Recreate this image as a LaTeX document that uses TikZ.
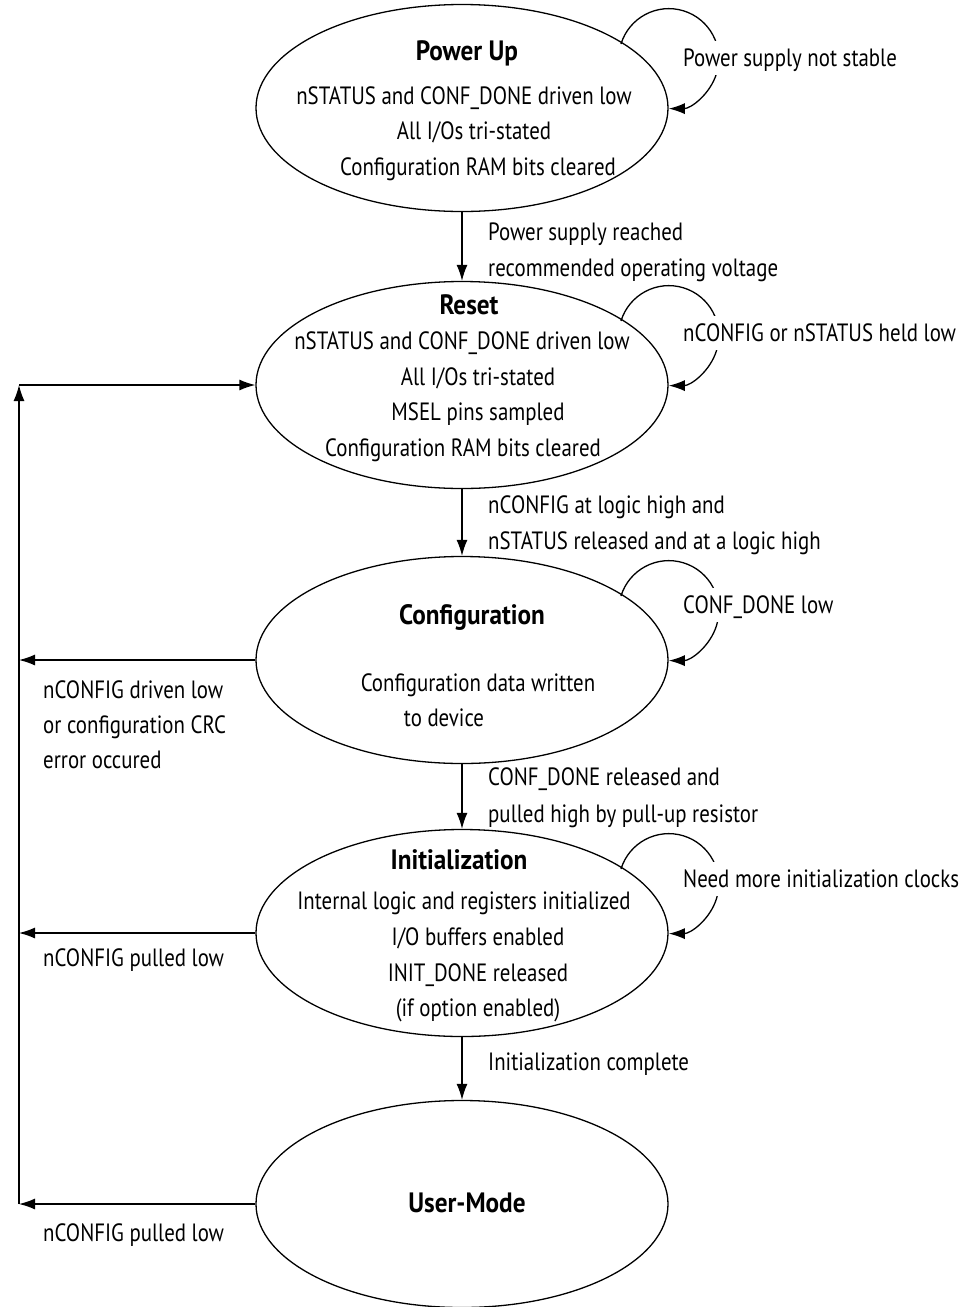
\documentclass[tikz,border=0pt]{standalone}
\usepackage{fontspec}
\setmainfont{PT Sans}[FakeStretch=0.835]
\newfontfamily\ttlfont{PT Sans}[FakeStretch=0.9]
\usetikzlibrary{shapes.geometric,arrows.meta}
\begin{document}
\begin{tikzpicture}[x=1pt,y=-1pt,
  state/.style={draw, ellipse, minimum width=412pt, minimum height=207pt, inner sep=0pt, line width=1.3pt},
  txt/.style={font=\fontsize{25}{30}\selectfont, inner sep=0pt, text height=17.5pt, text depth=0pt, anchor=center},
  ttl/.style={font=\ttlfont\fontsize{28}{32}\selectfont\bfseries, inner sep=0pt, text height=19.6pt, text depth=0pt, anchor=center},
  lbl/.style={txt, anchor=west},
  looplbl/.style={lbl, fill=white, inner ysep=8pt},
  arr/.style={line width=1.3pt, -{Latex[length=16pt,width=11pt]}}
]
\useasboundingbox (0,0) rectangle (964,1307);

% states
\node[state] (pu) at (462,108) {};
\node[state] (rs) at (462,385) {};
\node[state] (cf) at (462,660) {};
\node[state] (in) at (462,933) {};
\node[state] (um) at (462,1204) {};

% state texts
\node[ttl] (puT) at (467,51) {Power Up};
\node[txt] (pu1) at (464,96) {nSTATUS and CONF\_DONE driven low};
\node[txt] (pu2) at (474,131) {All I/Os tri-stated};
\node[txt] (pu3) at (478,167) {Configuration RAM bits cleared};

\node[ttl] (rsT) at (469,305) {Reset};
\node[txt] (rs1) at (462,341) {nSTATUS and CONF\_DONE driven low};
\node[txt] (rs2) at (478,377) {All I/Os tri-stated};
\node[txt] (rs3) at (478,412) {MSEL pins sampled};
\node[txt] (rs4) at (463,448) {Configuration RAM bits cleared};

\node[ttl] (cfT) at (472,615) {Configuration};
\node[txt] (cf1) at (478,683) {Configuration data written};
\node[txt] (cf2) at (444,718) {to device};

\node[ttl] (inT) at (459,860) {Initialization};
\node[txt] (in1) at (464,901) {Internal logic and registers initialized};
\node[txt] (in2) at (478,937) {I/O buffers enabled};
\node[txt] (in3) at (478,973) {INIT\_DONE released};
\node[txt] (in4) at (478,1008) {(if option enabled)};

\node[ttl] (umT) at (467,1203) {User-Mode};

% edge labels
\node[lbl] (l2) at (488,232) {Power supply reached};
\node[lbl] (l2b) at (488,268) {recommended operating voltage};
\node[lbl] (l4) at (488,505) {nCONFIG at logic high and};
\node[lbl] (l4b) at (488,541) {nSTATUS released and at a logic high};
\node[lbl] (l6) at (43,690) {nCONFIG driven low};
\node[lbl] (l6b) at (43,725) {or configuration CRC};
\node[lbl] (l6c) at (43,760) {error occured};
\node[lbl] (l7) at (488,777) {CONF\_DONE released and};
\node[lbl] (l7b) at (488,814) {pulled high by pull-up resistor};
\node[lbl] (l9) at (43,958) {nCONFIG pulled low};
\node[lbl] (l10) at (488,1062) {Initialization complete};
\node[lbl] (l11) at (43,1233) {nCONFIG pulled low};

% vertical transitions
\draw[arr] (pu.south) -- (rs.north);
\draw[arr] (rs.south) -- (cf.north);
\draw[arr] (cf.south) -- (in.north);
\draw[arr] (in.south) -- (um.north);

% self loops
\foreach \s in {pu,rs,cf,in}{
  \draw[arr] ([shift={(159,-64)}]\s.center) arc[start angle=197, end angle=450, radius=50];
}
\node[looplbl] (l1) at (683,58) {Power supply not stable};
\node[looplbl] (l3) at (683,333) {nCONFIG or nSTATUS held low};
\node[looplbl] (l5) at (683,605) {CONF\_DONE low};
\node[looplbl] (l8) at (683,879) {Need more initialization clocks};

% return bus
\coordinate (bTop) at (19,385);
\coordinate (bCf) at (19,660);
\coordinate (bIn) at (19,933);
\coordinate (bUm) at (19,1204);
\draw[arr] (cf.west) -- (bCf);
\draw[arr] (in.west) -- (bIn);
\draw[arr] (um.west) -- (bUm);
\draw[arr] (bUm) -- (bTop);
\draw[arr] (bTop) -- (rs.west);
\end{tikzpicture}
\end{document}
